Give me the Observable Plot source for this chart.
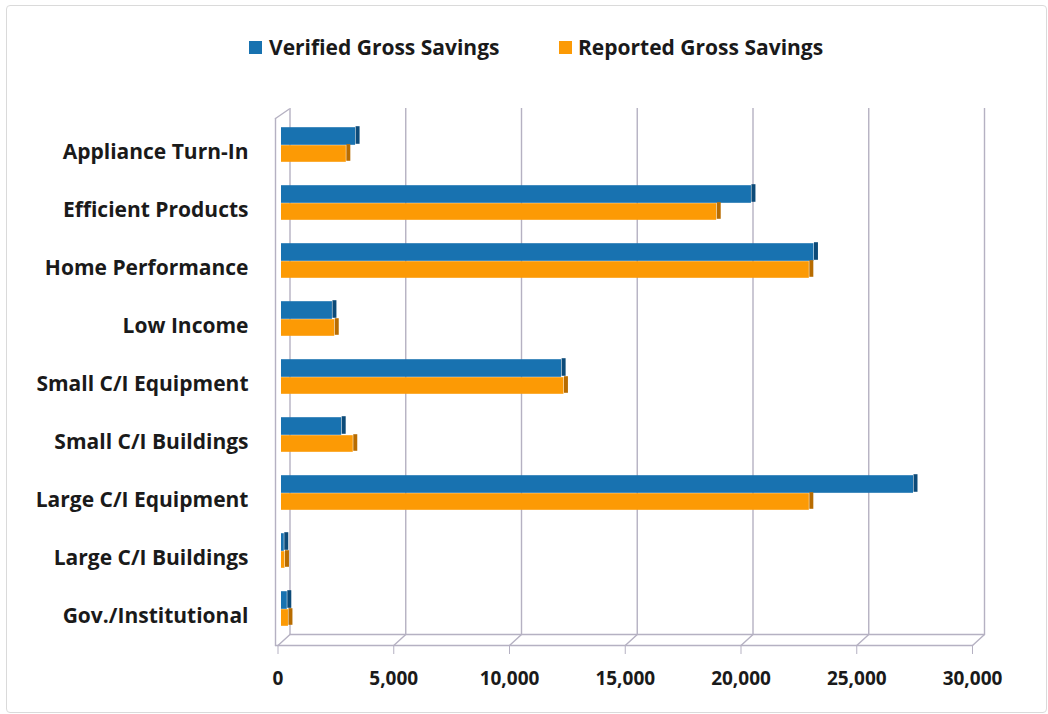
<!DOCTYPE html>
<html>
<head>
<meta charset="utf-8">
<script src="https://cdn.jsdelivr.net/npm/d3@7"></script>
<script src="https://cdn.jsdelivr.net/npm/@observablehq/plot@0.6"></script>
<style>
html, body { margin: 0; padding: 0; background: #fff; }
#wrap { position: relative; width: 1048px; height: 714px; overflow: hidden; font-family: "Open Sans", Lato, sans-serif; }
#border { position: absolute; left: 6px; top: 5px; width: 1041px; height: 708px; border: 1.5px solid #dadada; border-radius: 4px; box-sizing: border-box; pointer-events: none; }
#legend { position: relative; height: 88px; }
.sw { position: absolute; width: 13px; height: 13px; top: 41px; }
.lt { position: absolute; top: 33px; font-size: 21px; font-weight: 700; color: #1a1a1a; line-height: 28px; white-space: nowrap; letter-spacing: 0px; }
#chart svg { display: block; }
</style>
</head>
<body>
<div id="wrap">
  <div id="legend"></div>
  <div id="chart"></div>
  <div id="border"></div>
</div>
<script>
const categories = [
  "Appliance Turn-In",
  "Efficient Products",
  "Home Performance",
  "Low Income",
  "Small C/I Equipment",
  "Small C/I Buildings",
  "Large C/I Equipment",
  "Large C/I Buildings",
  "Gov./Institutional"
];
const verified = [3200, 20300, 23000, 2200, 12100, 2600, 27300, 120, 250];
const reported = [2800, 18800, 22800, 2300, 12200, 3100, 22800, 150, 300];
const xTicks = [0, 5000, 10000, 15000, 20000, 25000, 30000];
const seriesNames = ["Verified Gross Savings", "Reported Gross Savings"];
const seriesColors = ["#1872b0", "#fc9a05"];
const seriesDark = ["#0c4a78", "#b86c00"];

// legend (HTML, above the svg)
const legend = document.getElementById("legend");
const legendPos = [[249, 269], [559, 578]];
seriesNames.forEach((name, i) => {
  const sw = document.createElement("div");
  sw.className = "sw";
  sw.style.left = legendPos[i][0] + "px";
  sw.style.background = seriesColors[i];
  legend.appendChild(sw);
  const t = document.createElement("div");
  t.className = "lt";
  t.style.left = legendPos[i][1] + "px";
  t.textContent = name;
  legend.appendChild(t);
});

const grid = "#b5b1c2";
const lineShape = { draw(context, l) { context.moveTo(0, 0); context.lineTo(0, -l); } };
const W = 1048, H = 626, mL = 277.5, mR = 76, mT = 20, mB = 69;
const depthDx = 12, depthDy = 11;
const depthAngle = Math.atan2(depthDx, depthDy) * 180 / Math.PI;
const depthLen = Math.hypot(depthDx, depthDy);
const plotW = W - mL - mR;
const plotH = H - mT - mB;
const step = 58.4;
const bandStart = 62.2 - step / 2;
const barDx = 3.5;

const rows = categories.map((c, i) => ({cat: c, v: verified[i], r: reported[i]}));

const chart = Plot.plot({
  width: W,
  height: H,
  marginLeft: mL,
  marginRight: mR,
  marginTop: mT,
  marginBottom: mB,
  style: { fontFamily: "'Open Sans', Lato, sans-serif", fontWeight: "bold", color: "#1a1a1a", background: "transparent" },
  x: { domain: [0, 30000] },
  y: { domain: categories, range: [bandStart, bandStart + step * categories.length], padding: 0 },
  marks: [
    // back wall gridlines
    Plot.ruleX(xTicks, { x: d => d, dx: depthDx, insetBottom: depthDy, stroke: grid, strokeWidth: 1.4 }),
    // floor diagonals
    Plot.vector(xTicks, { x: d => d, frameAnchor: "bottom", rotate: depthAngle, length: depthLen, anchor: "start", shape: lineShape, stroke: grid, strokeWidth: 1.4 }),
    // floor back and front lines
    Plot.vector([0], { x: d => d, frameAnchor: "bottom", dx: depthDx, dy: -depthDy, rotate: 90, length: plotW, anchor: "start", shape: lineShape, stroke: grid, strokeWidth: 1.4 }),
    Plot.vector([0], { x: d => d, frameAnchor: "bottom", dx: -2.5, rotate: 90, length: plotW + 2.5, anchor: "start", shape: lineShape, stroke: grid, strokeWidth: 1.4 }),
    // left wall
    Plot.vector([0], { x: d => d, frameAnchor: "bottom", dx: -2.5, rotate: 0, length: plotH - 10, anchor: "start", shape: lineShape, stroke: grid, strokeWidth: 1.4 }),
    Plot.vector([0], { x: d => d, frameAnchor: "top", dx: -2.5, dy: 10, rotate: depthAngle + 8, length: depthLen, anchor: "start", shape: lineShape, stroke: grid, strokeWidth: 1.4 }),
    // verified bars
    Plot.barX(rows, { y: "cat", x1: 0, x2: "v", fill: seriesColors[0], dx: barDx, insetTop: 4.2, insetBottom: 36.2 }),
    Plot.tickX(rows, { y: "cat", x: "v", stroke: seriesDark[0], strokeWidth: 4, dx: barDx + 2, insetTop: 3.2, insetBottom: 37.2 }),
    // reported bars
    Plot.barX(rows, { y: "cat", x1: 0, x2: "r", fill: seriesColors[1], dx: barDx, insetTop: 22.2, insetBottom: 19.2 }),
    Plot.tickX(rows, { y: "cat", x: "r", stroke: seriesDark[1], strokeWidth: 4, dx: barDx + 2, insetTop: 21.2, insetBottom: 20.2 }),
    // axes
    Plot.axisY({ tickSize: 0, tickPadding: 29.5, fontSize: 21, fontWeight: "bold", fill: "#1a1a1a", label: null }),
    Plot.axisX({ ticks: xTicks, tickSize: 9, tickPadding: 17, tickFormat: d3.format(","), fontSize: 19, fontWeight: "bold", stroke: grid, fill: "#1a1a1a", label: null })
  ]
});
document.getElementById("chart").appendChild(chart);
</script>
</body>
</html>
